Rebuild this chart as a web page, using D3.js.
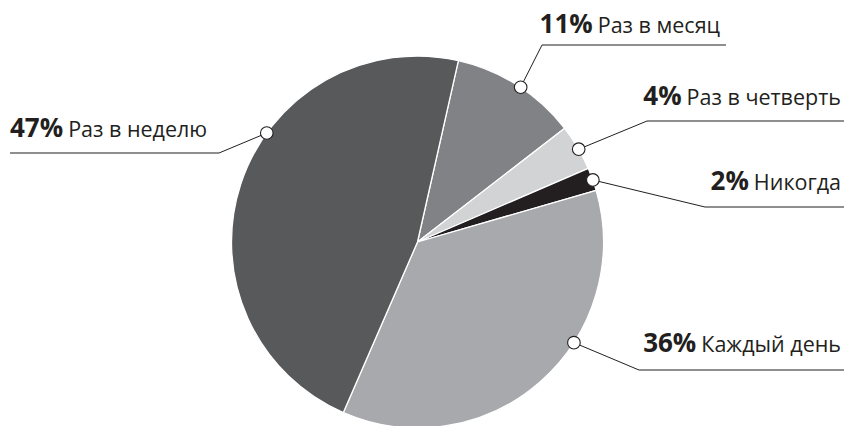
<!DOCTYPE html>
<html>
<head>
<meta charset="utf-8">
<script src="https://cdn.jsdelivr.net/npm/d3@7"></script>
<style>
  html, body { margin: 0; padding: 0; background: #fff; }
  svg { display: block; }
  text { font-family: "Open Sans", sans-serif; fill: #231f20; }
</style>
</head>
<body>
<svg id="chart" width="844" height="426"></svg>
<script>
// Survey shares, in drawing order (clockwise from the top)
const categories = ["Раз в месяц", "Раз в четверть", "Никогда", "Каждый день", "Раз в неделю"];
const percents = [11, 4, 2, 36, 47];
const colors = ["#808285", "#d1d3d4", "#231f20", "#a7a9ac", "#58595b"];

// Callout layout: where along each slice the marker sits, and label placement
const markerFraction = [0.53, 0.54, 0.53, 0.377, 0.605];
const labelLayout = [
  { textX: 720, anchor: "end",   baseline: 33,  lineY: 45,  x1: 542, x2: 726, elbow: "start" },
  { textX: 841, anchor: "end",   baseline: 105, lineY: 121, x1: 647, x2: 844, elbow: "start" },
  { textX: 841, anchor: "end",   baseline: 190, lineY: 207, x1: 705, x2: 844, elbow: "start" },
  { textX: 841, anchor: "end",   baseline: 352, lineY: 370, x1: 639, x2: 844, elbow: "start" },
  { textX: 10,  anchor: "start", baseline: 137, lineY: 153, x1: 10,  x2: 219, elbow: "end" }
];

const svg = d3.select("#chart");
const cx = 417.5, cy = 242, radius = 186;
const startAngle = 12.7 * Math.PI / 180;

const pie = d3.pie()
  .value(d => d)
  .sort(null)
  .startAngle(startAngle)
  .endAngle(startAngle + 2 * Math.PI);

const arcs = pie(percents);
const arc = d3.arc().innerRadius(0).outerRadius(radius);

const g = svg.append("g").attr("transform", `translate(${cx},${cy})`);

g.selectAll("path.slice")
  .data(arcs)
  .join("path")
  .attr("class", "slice")
  .attr("d", arc)
  .attr("fill", (d, i) => colors[i])
  .attr("stroke", "#fff")
  .attr("stroke-width", 1.3)
  .attr("stroke-linejoin", "round");

// Callouts: underline, leader to the slice edge, ring marker, label
const callouts = svg.append("g");
arcs.forEach((a, i) => {
  const ang = a.startAngle + (a.endAngle - a.startAngle) * markerFraction[i];
  const mx = cx + radius * Math.sin(ang);
  const my = cy - radius * Math.cos(ang);
  const L = labelLayout[i];
  const ex = L.elbow === "start" ? L.x1 : L.x2;

  callouts.append("line")
    .attr("x1", L.x1).attr("x2", L.x2)
    .attr("y1", L.lineY).attr("y2", L.lineY)
    .attr("stroke", "#231f20").attr("stroke-width", 1.1);

  callouts.append("line")
    .attr("x1", ex).attr("y1", L.lineY)
    .attr("x2", mx).attr("y2", my)
    .attr("stroke", "#231f20").attr("stroke-width", 1);

  callouts.append("circle")
    .attr("cx", mx).attr("cy", my).attr("r", 6.3)
    .attr("fill", "#fff").attr("stroke", "#231f20").attr("stroke-width", 1.1);

  const t = callouts.append("text")
    .attr("x", L.textX).attr("y", L.baseline)
    .attr("text-anchor", L.anchor);
  t.append("tspan").attr("font-weight", 700).attr("font-size", 26).text(percents[i] + "%");
  t.append("tspan").attr("font-size", 21.5).attr("dx", 5).text(categories[i]);
});
</script>
</body>
</html>
